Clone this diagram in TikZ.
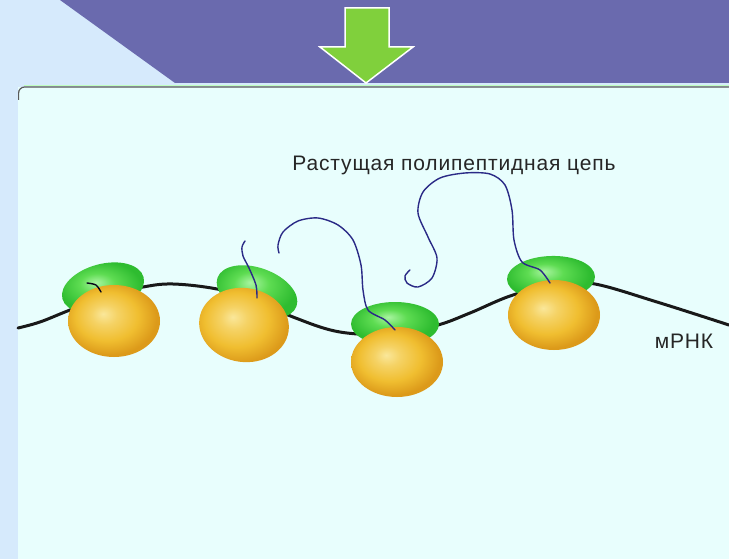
\documentclass[tikz,border=0pt]{standalone}
\usepackage{fontspec}
\setmainfont{Liberation Sans}
\usetikzlibrary{positioning}

\definecolor{slideblue}{HTML}{D6EAFC}
\definecolor{bandpurple}{HTML}{6A6AAE}
\definecolor{arrowgreen}{HTML}{80D03C}
\definecolor{panelcyan}{HTML}{E8FEFD}
\definecolor{chainblue}{HTML}{2A2A86}
\definecolor{bigin}{HTML}{FAE79A}
\definecolor{bigmid}{HTML}{F0BE30}
\definecolor{bigout}{HTML}{DC9A1A}
\definecolor{smallin}{HTML}{A8F4A0}
\definecolor{smallmid}{HTML}{5EDC52}
\definecolor{smallout}{HTML}{2EBC30}

% large and small subunit fills
\pgfdeclareradialshading{bigsub}{\pgfpoint{-6bp}{5bp}}{%
  color(0bp)=(bigin); color(7bp)=(bigin!50!bigmid); color(17bp)=(bigmid);
  color(26bp)=(bigout); color(50bp)=(bigout)}
\pgfdeclareradialshading{smallsub}{\pgfpoint{-4bp}{8bp}}{%
  color(0bp)=(smallin); color(10bp)=(smallmid); color(24bp)=(smallout);
  color(50bp)=(smallout)}

\begin{document}
\begin{tikzpicture}[
    x=1pt, y=-1pt,
    % styles
    caption/.style = {font=\fontsize{21}{24}\selectfont\addfontfeatures{LetterSpace=4},
      text=black!85, inner sep=0pt},
    rna/.style = {line width=3pt, black!90, line cap=round},
    chain/.style = {line width=1.4pt, chainblue, line cap=round},
    ]

    \useasboundingbox (0,0) rectangle (729,559);

    % --- FONDO ---
    \fill[slideblue] (0,0) rectangle (729,559);
    \fill[bandpurple] (60,0) -- (729,0) -- (729,83) -- (175,83) -- cycle;
    \fill[panelcyan] (18,87) rectangle (729,559);
    \draw[green!25!white, line width=1pt] (24,85.5) -- (729,85.5);
    \draw[black!65, line width=1.2pt] (18.6,100) -- (18.6,93) arc[start angle=180, end angle=270, radius=6] -- (729,87);

    % flecha
    \draw[white, line width=1.5pt, fill=arrowgreen]
      (345,8) -- (389,8) -- (389,47) -- (413,47) -- (366,83) -- (320,47) -- (345,47) -- cycle;

    % --- ARNm ---
    \draw[rna] plot[smooth, tension=0.6] coordinates {(18,328) (40,322) (70,310) (110,295)
      (143,287) (173,284) (217,289) (255,300) (293,317) (340,332) (395,334) (438,325)
      (470,313) (513,295) (560,284) (595,284) (657,302) (729,325)};

    % --- RIBOSOMAS ---
    % subunidad menor x/y/rx/ry/angulo, subunidad mayor x/y/rx/ry/angulo
    \foreach \gx/\gy/\grx/\gry/\ga/\yx/\yy/\yrx/\yry/\ya in {
        103/288/42/24/15/114/321/46/36/0,
        257/292/42/24/-20/244/325/45/37/-8,
        395/324/44/22/0/397/362/46/35/0,
        551/278/44/22/2/554/315/46/35/0}{
      \shade[shading=smallsub, rotate around={\ga:(\gx,\gy)}]
        (\gx,\gy) ellipse[x radius=\grx, y radius=\gry];
      \shade[shading=bigsub, rotate around={\ya:(\yx,\yy)}]
        (\yx,\yy) ellipse[x radius=\yrx, y radius=\yry];
    }

    % --- CADENAS POLIPEPTIDICAS ---
    \draw[chain, black!80!chainblue] plot[smooth] coordinates {(87,283) (96,285) (101,292)};
    \draw[chain] plot[smooth] coordinates {(257,298) (256,285) (249,268) (243,256) (242,247) (245,241)};
    \draw[chain] plot[smooth] coordinates {(395,330) (385,320) (368,310) (363,290) (361,265)
      (353,240) (338,225) (318,218) (298,221) (283,232) (278,245) (279,253)};
    \draw[chain] plot[smooth] coordinates {(550,283) (540,270) (522,262) (514,240) (512,210)
      (505,185) (490,174) (465,173) (440,178) (423,192) (418,213) (428,237) (437,258)
      (432,278) (418,287) (407,283) (405,276) (410,270)};

    % rotulos
    \node[caption] (cadena) at (454,165) {Растущая полипептидная цепь};
    \node[caption] (arnm) at (684,341) {мРНК};

\end{tikzpicture}
\end{document}
